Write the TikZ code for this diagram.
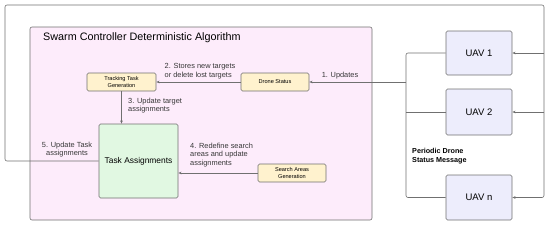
\documentclass[tikz,border=0pt]{standalone}
\usepackage{fontspec}
\setmainfont{Liberation Sans}
\usetikzlibrary{calc,arrows.meta}
\definecolor{lineGray}{RGB}{112,112,112}
\definecolor{softPink}{RGB}{253,236,251}
\definecolor{softYellow}{RGB}{255,242,206}
\definecolor{softGreen}{RGB}{225,248,226}
\definecolor{softLavender}{RGB}{237,237,252}
\definecolor{textGray}{RGB}{55,55,55}
\tikzset{
  smallBox/.style={draw=lineGray,fill=softYellow,rounded corners=1.5pt,line width=0.6pt,
    minimum width=68pt,minimum height=18pt,align=center,inner sep=1pt,
    font=\fontsize{5.6}{6.6}\selectfont},
  uavBox/.style={draw=lineGray,fill=softLavender,rounded corners=1.5pt,line width=0.6pt,
    minimum width=66pt,font=\fontsize{9.5}{11}\selectfont},
  link/.style={draw=lineGray,line width=0.6pt},
  linkArrow/.style={link,-{Stealth[length=3.2pt,width=2.6pt]}},
  stepLabel/.style={text=textGray,align=left,inner sep=0pt,font=\fontsize{7.4}{8.8}\selectfont}
}
\begin{document}
\begin{tikzpicture}[x=1pt,y=-1pt]
\useasboundingbox (0,0) rectangle (550,225);
% controller frame
\node[draw=lineGray,fill=softPink,rounded corners=2pt,line width=0.6pt,minimum width=342pt,minimum height=193pt] (ctrl) at (201,123.5) {};
\node[anchor=west,inner sep=0pt,font=\fontsize{10.8}{12}\selectfont] (title) at (43,38) {Swarm Controller Deterministic Algorithm};
% boxes
\node[smallBox,minimum width=69pt] (track) at (121.5,82) {Tracking Task\\Generation};
\node[smallBox] (status) at (275,82) {Drone Status};
\node[smallBox] (search) at (292,173) {Search Areas\\Generation};
\node[draw=lineGray,fill=softGreen,rounded corners=1.5pt,line width=0.6pt,minimum width=79pt,minimum height=74pt,font=\fontsize{8.4}{10}\selectfont] (task) at (138.5,161) {Task Assignments};
\node[uavBox,minimum height=44pt] (uav1) at (479,53) {UAV 1};
\node[uavBox,minimum height=46pt] (uav2) at (479,112) {UAV 2};
\node[uavBox,minimum height=45pt] (uavn) at (479,197.5) {UAV n};
% bus points
\coordinate (bus) at (406,82);
\coordinate (rt1) at (544,53);
\coordinate (rt2) at (544,112);
% status messages from the UAVs
\draw[link,rounded corners=2pt] (uav1.west) -- (406,53) -- (406,197.5) -- (uavn.west);
\draw[link] (uav2.west) -- (uav2.west -| bus);
\draw[linkArrow] (bus) -- (status.east);
\draw[linkArrow] (status.west) -- (track.east);
\draw[linkArrow] (track.south) -- (track.south |- task.north);
\draw[linkArrow] (search.west) -- (search.west -| task.east);
% back to the UAVs
\draw[linkArrow,rounded corners=2pt] (task.west) -- (5,161) -- (5,5) -- (544,5) -- (544,197.5) -- (uavn.east);
\draw[linkArrow] (rt1) -- (uav1.east);
\draw[linkArrow] (rt2) -- (uav2.east);
% labels
\node[stepLabel] (lab1) at (340,76) {1. Updates};
\node[stepLabel] (lab2) at (200,71.5) {2. Stores new targets\\or delete lost targets};
\node[stepLabel,anchor=west] (lab3) at (128,105.5) {3. Update target\\assignments};
\node[stepLabel,anchor=west] (lab4) at (190,155) {4. Redefine search\\areas and update\\assignments};
\node[stepLabel,align=center] (lab5) at (67,149.5) {5. Update Task\\assignments};
\node[stepLabel,anchor=west,text=black,font=\bfseries\fontsize{7.2}{8.8}\selectfont] (msg) at (412,156.5) {Periodic Drone\\Status Message};
\end{tikzpicture}
\end{document}
